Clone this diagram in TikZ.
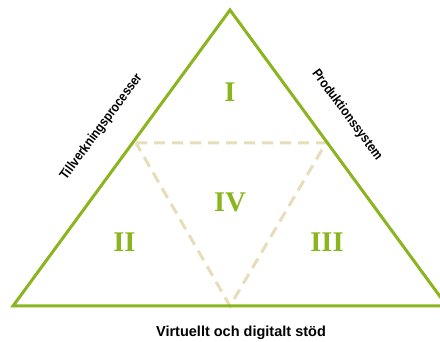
\documentclass[tikz,border=0pt]{standalone}
\usepackage{graphicx}
\usepackage{fontspec}
\setmainfont{Liberation Sans}
\newfontfamily\numfont{Liberation Serif}
\definecolor{tgreen}{HTML}{8BB51F}
\definecolor{tbeige}{HTML}{E6DDB9}
\newcommand{\narrowtxt}[1]{\scalebox{0.87}[1]{#1}}
\begin{document}
\begin{tikzpicture}[x=1pt,y=-1pt,
  outer/.style={draw=tgreen,line width=3pt,line join=miter},
  inner/.style={draw=tbeige,line width=3pt,dash pattern=on 11pt off 7pt},
  roman/.style={text=tgreen,font=\numfont\bfseries\fontsize{28.5}{30}\selectfont,inner sep=0pt},
  side/.style={font=\bfseries\fontsize{13.5}{15}\selectfont,inner sep=0pt},
  base/.style={font=\bfseries\fontsize{14.5}{17}\selectfont,inner sep=0pt}]
\useasboundingbox[fill=white] (0,0) rectangle (440,342);
\coordinate (A) at (230,10);
\coordinate (B) at (13,306);
\coordinate (C) at (447,306);
\coordinate (P) at (136,143);
\coordinate (Q) at (326,143);
\coordinate (R) at (230,306);
\draw[inner] (P) -- (Q) -- (R) -- cycle;
\draw[outer] (A) -- (B) -- (C) -- cycle;
\node[roman] (n1) at (230,92) {I};
\node[roman] (n2) at (124.5,242.5) {II};
\node[roman] (n3) at (327,242.5) {III};
\node[roman] (n4) at (230,202.5) {IV};
\node[side,rotate=53.5] (lt) at (101.5,127) {\narrowtxt{Tillverkningsprocesser}};
\node[side,rotate=-53.5] (rt) at (347,115) {\narrowtxt{Produktionssystem}};
\node[base] (bt) at (241,333) {Virtuellt och digitalt stöd};
\end{tikzpicture}
\end{document}
